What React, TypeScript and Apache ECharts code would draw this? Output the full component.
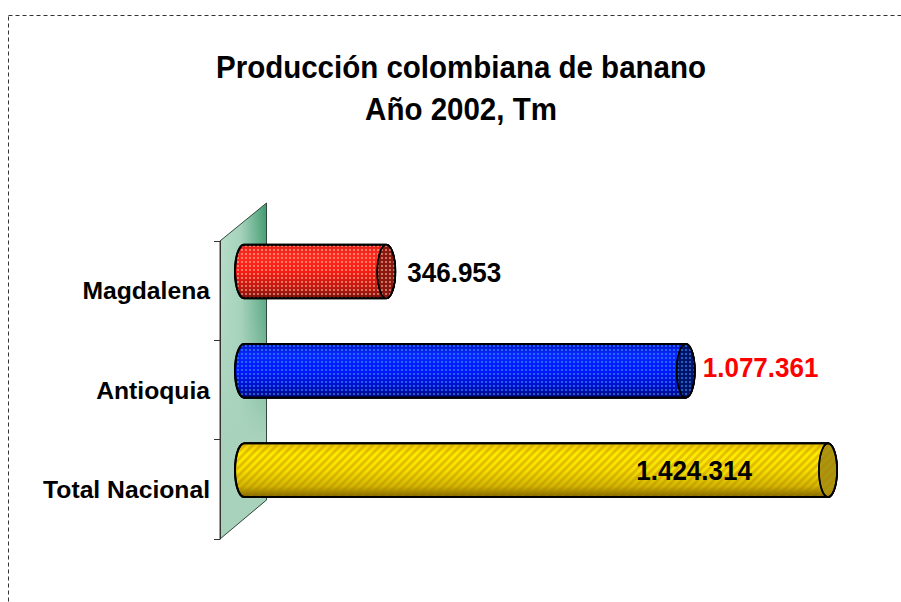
import React, { useEffect, useRef } from "react";
import * as echarts from "echarts";

const TITLE_LINES = ["Producción colombiana de banano", "Año 2002, Tm"];
const categories = ["Magdalena", "Antioquia", "Total Nacional"];
const production = [346953, 1077361, 1424314];
const VALUE_MAX = 1500000;

const FONT = '"Liberation Sans", Arial, sans-serif';

const looks = [
  { stops: ["#e02018", "#ff2a20", "#f81c14", "#c01810", "#7a100c"], end: "#8c1610", kind: "dots", dot: "rgba(255,215,180,0.5)", labelColor: "#000", labelDx: 12, labelDy: 0, inside: false },
  { stops: ["#0018c8", "#0828ff", "#0018ff", "#0010c8", "#00087a"], end: "#00146e", kind: "dots", dot: "rgba(70,170,255,0.5)", labelColor: "#ff0000", labelDx: 8, labelDy: -4, inside: false },
  { stops: ["#e8c800", "#ffee00", "#f4e000", "#d0b800", "#7a6600"], end: "#a89810", kind: "stripes", dot: "rgba(190,120,0,0.36)", labelColor: "#000", labelDx: -67, labelDy: 0, inside: true },
];

function makePattern(kind: string, color: string) {
  const c = document.createElement("canvas");
  const n = kind === "dots" ? 4 : 8;
  c.width = n;
  c.height = n;
  const g = c.getContext("2d")!;
  g.fillStyle = color;
  if (kind === "dots") {
    g.fillRect(1, 1, 2, 2);
  } else {
    g.beginPath();
    g.moveTo(0, 0); g.lineTo(4, 0); g.lineTo(0, 4);
    g.closePath();
    g.fill();
    g.beginPath();
    g.moveTo(8, 0); g.lineTo(8, 4); g.lineTo(4, 8); g.lineTo(0, 8);
    g.closePath();
    g.fill();
  }
  return c;
}

const formatValue = (v: number) => String(v).replace(/\B(?=(\d{3})+$)/g, ".");

export default function App() {
  const ref = useRef<HTMLDivElement>(null);
  useEffect(() => {
    document.body.style.margin = "0";
    const chart = echarts.init(ref.current!, undefined, { renderer: "svg" });
    const patterns = looks.map((l) => makePattern(l.kind, l.dot));

    const renderItem = (params: any, api: any) => {
      const i = params.dataIndex;
      const look = looks[i];
      const value = api.value(0);
      const [x1, yc] = api.coord([value, api.value(1)]);
      const [x0] = api.coord([0, api.value(1)]);
      const band = api.size([0, 1])[1];
      const cy = yc - band * 0.193;
      const ry = band * 0.27;
      const rx = 9;
      const pts: number[][] = [];
      for (let k = 0; k <= 14; k++) {
        const t = Math.PI / 2 + (Math.PI * k) / 14;
        pts.push([x0 + rx * Math.cos(t), cy - ry * Math.sin(t)]);
      }
      for (let k = 0; k <= 14; k++) {
        const t = -Math.PI / 2 + (Math.PI * k) / 14;
        pts.push([x1 + rx * Math.cos(t), cy - ry * Math.sin(t)]);
      }
      const grad = new echarts.graphic.LinearGradient(0, 0, 0, 1, [
        { offset: 0, color: look.stops[0] },
        { offset: 0.2, color: look.stops[1] },
        { offset: 0.5, color: look.stops[2] },
        { offset: 0.8, color: look.stops[3] },
        { offset: 1, color: look.stops[4] },
      ]);
      const pat = { image: patterns[i], repeat: "repeat" };
      return {
        type: "group",
        children: [
          { type: "polygon", shape: { points: pts }, style: { fill: grad, stroke: "#000", lineWidth: 2 } },
          { type: "polygon", shape: { points: pts }, style: { fill: pat, stroke: "#000", lineWidth: 2 } },
          { type: "ellipse", shape: { cx: x1, cy, rx, ry }, style: { fill: look.end, stroke: "#000", lineWidth: 1.6 } },
          { type: "ellipse", shape: { cx: x1, cy, rx, ry }, style: { fill: pat, stroke: "#000", lineWidth: 1.6 } },
          {
            type: "text",
            x: x1 + rx + look.labelDx - (look.inside ? rx * 2 : 0),
            y: cy + 1 + look.labelDy,
            scaleX: 0.93,
            style: {
              text: formatValue(value),
              fill: look.labelColor,
              font: `bold 28px ${FONT}`,
              textAlign: look.inside ? "right" : "left",
              textVerticalAlign: "middle",
              verticalAlign: "middle",
            },
          },
        ],
      };
    };

    const wallPoints = [[220, 241], [266.5, 203], [266.5, 500], [220, 539]];

    chart.setOption({
      animation: false,
      backgroundColor: "#ffffff",
      grid: { left: 244, top: 241, width: 615, height: 298 },
      xAxis: { type: "value", min: 0, max: VALUE_MAX, show: false },
      yAxis: {
        type: "category",
        inverse: true,
        data: categories,
        offset: 24,
        axisLine: { show: true, onZero: false, lineStyle: { color: "#333", width: 1 } },
        axisTick: { show: true, length: 6, lineStyle: { color: "#333", width: 1 } },
        axisLabel: { margin: 10, fontFamily: FONT, fontWeight: "bold", fontSize: 24.7, color: "#000" },
        splitLine: { show: false },
      },
      graphic: [
        {
          type: "rect", z: 0, silent: true,
          shape: { x: 8.5, y: 15.5, width: 1200, height: 1200 },
          style: { fill: "none", stroke: "#333", lineWidth: 1, lineDash: [4, 3] },
        },
        {
          type: "text", z: 1, x: 461, y: 67, scaleX: 0.922,
          style: { text: TITLE_LINES[0], font: `bold 32px ${FONT}`, fill: "#000", textAlign: "center", textVerticalAlign: "middle", verticalAlign: "middle" },
        },
        {
          type: "text", z: 1, x: 461, y: 109, scaleX: 0.922,
          style: { text: TITLE_LINES[1], font: `bold 32px ${FONT}`, fill: "#000", textAlign: "center", textVerticalAlign: "middle", verticalAlign: "middle" },
        },
        {
          type: "polygon", z: 0, silent: true,
          shape: { points: wallPoints },
          style: {
            fill: new echarts.graphic.LinearGradient(0, 0, 1, 0, [
              { offset: 0, color: "#b8dfca" },
              { offset: 0.45, color: "#a5d2bb" },
              { offset: 1, color: "#3f9a70" },
            ]),
          },
        },
        {
          type: "polygon", z: 0, silent: true,
          shape: { points: wallPoints },
          style: {
            fill: new echarts.graphic.LinearGradient(0, 0, 0, 1, [
              { offset: 0, color: "rgba(168,210,188,0)" },
              { offset: 0.35, color: "rgba(168,210,188,0.35)" },
              { offset: 0.7, color: "rgba(168,210,188,1)" },
              { offset: 1, color: "rgba(168,210,188,1)" },
            ]),
            stroke: "#2f4a3c",
            lineWidth: 1,
          },
        },
      ],
      series: [
        {
          type: "custom",
          renderItem,
          coordinateSystem: "cartesian2d",
          encode: { x: 0, y: 1 },
          data: production.map((v, i) => [v, i]),
          z: 5,
        },
      ],
    });
    return () => chart.dispose();
  }, []);
  return <div ref={ref} style={{ width: 901, height: 602 }} />;
}
